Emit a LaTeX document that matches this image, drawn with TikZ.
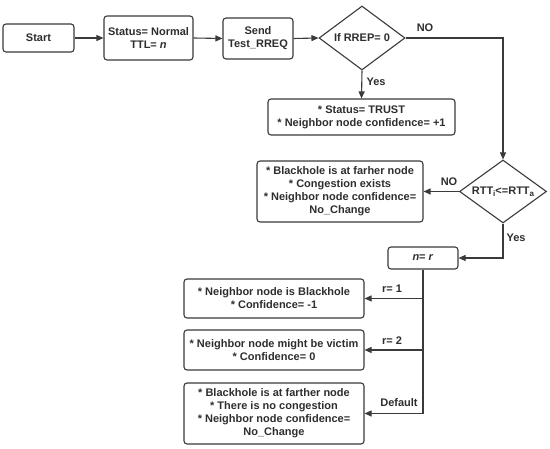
\documentclass[tikz,border=0pt]{standalone}
\usepackage{fontspec}
\setmainfont{Liberation Sans}
\usetikzlibrary{shapes.geometric,arrows.meta}
\definecolor{ln}{HTML}{3A3A3A}
\definecolor{tx}{HTML}{2E2E2E}
\tikzset{
  box/.style={draw=ln, line width=1.1pt, rounded corners=3pt, fill=white, align=center,
    inner sep=0pt, text=tx, font=\fontsize{11}{13}\selectfont\bfseries},
  dia/.style={draw=ln, line width=1.1pt, diamond, inner sep=0pt, fill=white},
  dlabel/.style={text=tx, font=\fontsize{11}{13}\selectfont\bfseries},
  conn/.style={draw=ln, line width=1.1pt, -{Triangle[length=7pt,width=6pt]}},
  plain/.style={draw=ln, line width=1.1pt},
  lab/.style={text=tx, font=\fontsize{11}{13}\selectfont\bfseries, inner sep=0pt}
}
\newcommand{\sbs}[1]{\raisebox{-0.35ex}{\fontsize{8}{9}\selectfont #1}}
\begin{document}
\begin{tikzpicture}[x=1pt,y=1pt]
\useasboundingbox (0,0) rectangle (550,449);
% top row
\node[box, minimum width=71pt, minimum height=28pt] (start) at (38.5,411) {Start};
\node[box, minimum width=89pt, minimum height=44pt] (status) at (148.5,411) {Status= Normal\\TTL= \textit{n}};
\node[box, minimum width=70pt, minimum height=41pt] (send) at (258,410.5) {Send\\Test\_RREQ};
\node[dia, minimum width=86pt, minimum height=64pt] (d1) at (362,411) {};
\node[dlabel] (d1t) at (d1.center) {If RREP= 0};
\node[box, minimum width=187pt, minimum height=36pt] (trust) at (361.5,332) {* Status= TRUST\\* Neighbor node confidence= +1};
% second decision
\node[dia, minimum width=87pt, minimum height=63pt] (d2) at (503,257.5) {};
\node[dlabel] (d2t) at (d2.center) {RTT\sbs{i}<=RTT\sbs{a}};
\node[box, minimum width=166pt, minimum height=61pt] (cong) at (340,257.5) {* Blackhole is at farher node\\* Congestion exists\\* Neighbor node confidence=\\No\_Change};
\node[box, minimum width=70pt, minimum height=22pt] (nr) at (423,191) {\textit{n}= \textit{r}};
% outcomes
\node[box, minimum width=180pt, minimum height=39pt] (r1) at (274,150.5) {* Neighbor node is Blackhole\\* Confidence= -1};
\node[box, minimum width=180pt, minimum height=40pt] (r2) at (274,99) {* Neighbor node might be victim\\* Confidence= 0};
\node[box, minimum width=180pt, minimum height=61pt] (r3) at (274,35.5) {* Blackhole is at farther node\\* There is no congestion\\* Neighbor node confidence=\\No\_Change};
\coordinate (corner) at (503,411);
% connectors
\draw[conn] (start.east) -- (status.west);
\draw[conn] (status.east) -- (send.west);
\draw[conn] (send.east) -- (d1.west);
\draw[conn] (d1.south) -- (trust.north);
\draw[conn] (d1.east) -- (corner) -- (d2.north);
\draw[conn] (d2.west) -- (cong.east);
\draw[conn] (d2.south) |- (nr.east);
\draw[conn] (nr.south) |- (r3.east);
\draw[conn] (nr.south |- r1.east) -- (r1.east);
\draw[conn] (nr.south |- r2.east) -- (r2.east);
% labels
\node[lab] (lno1) at (425,421) {NO};
\node[lab] (lyes1) at (376,367) {Yes};
\node[lab] (lno2) at (449,267) {NO};
\node[lab] (lyes2) at (516,211) {Yes};
\node[lab] (lr1) at (392,160) {r= 1};
\node[lab] (lr2) at (392,108) {r= 2};
\node[lab] (ldef) at (399,46) {Default};
\end{tikzpicture}
\end{document}
